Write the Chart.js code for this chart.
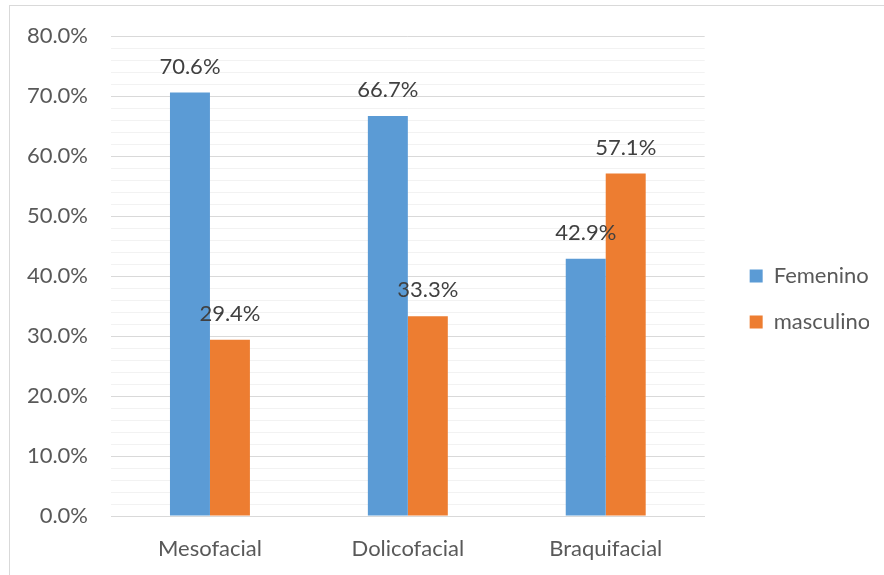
<!DOCTYPE html>
<html>
<head>
<meta charset="utf-8">
<script src="https://cdn.jsdelivr.net/npm/chart.js@4/dist/chart.umd.min.js"></script>
<style>
  html, body { margin: 0; padding: 0; background: #fff; overflow: hidden; }
  #wrap { position: relative; width: 884px; height: 575px; }
  #marco { position: absolute; left: 9px; top: 5px; width: 900px; height: 600px; border: 1px solid #d9d9d9; }
  #grafico { position: absolute; left: 0; top: 0; }
</style>
</head>
<body>
<div id="wrap">
  <div id="marco"></div>
  <canvas id="grafico" width="884" height="575"></canvas>
</div>
<script>
const categorias = ["Mesofacial", "Dolicofacial", "Braquifacial"];
const femenino = [70.6, 66.7, 42.9];
const masculino = [29.4, 33.3, 57.1];

const fuente = "Lato, 'Open Sans', sans-serif";

// etiquetas de valor encima de cada barra
const etiquetas = {
  id: "etiquetas",
  afterDatasetsDraw(chart) {
    const ctx = chart.ctx;
    ctx.save();
    ctx.font = "22px " + fuente;
    ctx.fillStyle = "#404040";
    ctx.textAlign = "center";
    ctx.textBaseline = "middle";
    chart.data.datasets.forEach((ds, i) => {
      chart.getDatasetMeta(i).data.forEach((bar, j) => {
        ctx.fillText(ds.data[j].toFixed(1) + "%", bar.x, bar.y - 26);
      });
    });
    ctx.restore();
  }
};

new Chart(document.getElementById("grafico"), {
  type: "bar",
  data: {
    labels: categorias,
    datasets: [
      {
        label: "Femenino",
        data: femenino,
        backgroundColor: "#5B9BD5",
        barPercentage: 1,
        categoryPercentage: 0.404
      },
      {
        label: "masculino",
        data: masculino,
        backgroundColor: "#ED7D31",
        barPercentage: 1,
        categoryPercentage: 0.404
      }
    ]
  },
  options: {
    responsive: false,
    animation: false,
    layout: {
      padding: { left: 9, right: 15, top: 35, bottom: 12 }
    },
    scales: {
      x: {
        grid: { display: false, drawTicks: false },
        border: { color: "#d9d9d9" },
        ticks: {
          color: "#595959",
          padding: 20,
          font: { family: fuente, size: 22 }
        },
        afterFit: (s) => { s.height = 47; }
      },
      y: {
        min: 0,
        max: 80,
        border: { display: false },
        grid: {
          drawTicks: false,
          color: (c) => (c.tick && c.tick.value % 10 === 0 ? "#d9d9d9" : "#f2f2f2")
        },
        ticks: {
          stepSize: 2,
          autoSkip: false,
          padding: 23,
          color: "#595959",
          font: { family: fuente, size: 22 },
          callback: (v) => (v % 10 === 0 ? v.toFixed(1) + "%" : "")
        },
        afterFit: (s) => { s.width = 102; }
      },
      hueco: {
        type: "linear",
        position: "right",
        grid: { display: false, drawTicks: false },
        border: { display: false },
        ticks: { display: false },
        afterFit: (s) => { s.width = 21; }
      }
    },
    plugins: {
      tooltip: { enabled: false },
      legend: {
        position: "right",
        labels: {
          boxWidth: 13,
          boxHeight: 13,
          padding: 24,
          color: "#595959",
          font: { family: fuente, size: 22 }
        }
      }
    }
  },
  plugins: [etiquetas]
});
</script>
</body>
</html>
